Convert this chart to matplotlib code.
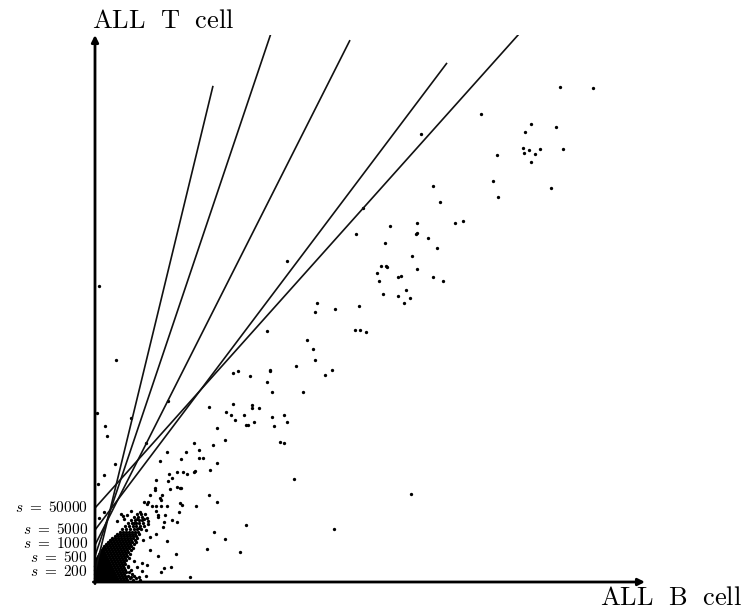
import matplotlib
matplotlib.use("Agg")
import matplotlib.pyplot as plt
import matplotlib.transforms as mtransforms

plt.rcParams['mathtext.fontset'] = 'cm'
plt.rcParams['font.family'] = ['DejaVu Serif']

# ---- data (arbitrary expression units) ----
s_labels = ["200", "500", "1000", "5000", "50000"]
line_intercepts = [10, 26, 37, 52, 74]
line_slopes = [4.12, 2.97, 1.98, 1.327, 1.118]
line_end_x = [118, 176, 255, 352, 424]

sparse_x = [465, 498, 386, 436, 430, 461, 326, 428, 434, 429, 440, 445, 468, 436, 402,
            398, 403, 456, 338, 345, 360, 368, 322, 295, 322, 321, 333, 261, 290, 342,
            317, 192, 286, 291, 292, 282, 322, 284, 303, 306, 338, 348, 288, 311, 303,
            315, 309, 222, 240, 264, 268,
            220, 172, 260, 265, 271, 212, 218, 220, 201, 237, 230, 138, 143, 155, 175,
            175, 172, 177, 208, 114, 138, 131, 136, 140, 149, 157, 157, 164, 151, 153,
            159, 177, 179, 189, 192, 122, 130, 118, 99, 91, 104, 86, 104, 108, 122, 88,
            92, 99, 100, 115, 86, 114, 185, 189, 199, 316,
            4, 21, 2, 10, 12, 36, 73, 51, 72, 65, 20,
            82, 74, 77, 73, 61, 9, 3, 122, 101, 151, 119, 130, 112, 145, 239, 81, 63, 55,
            76, 69, 66, 95, 51, 44, 36, 47, 52, 42, 47, 39, 33, 34, 61, 72, 68, 69, 77,
            82, 84, 85, 87, 75, 82, 85, 60, 60, 55, 67, 65, 66, 53, 49, 52, 57, 61, 66,
            72, 61, 63, 63, 70, 45, 36, 42, 49, 52, 53, 39, 32, 26, 28, 29, 22, 9, 4, 49,
            51, 53, 44, 48, 55]
sparse_y = [495, 494, 468, 458, 450, 455, 448, 434, 432, 429, 428, 433, 433, 420, 427,
            401, 385, 394, 396, 380, 359, 361, 359, 356, 349, 348, 344, 348, 339, 334,
            326, 321, 316, 316, 315, 309, 313, 301, 305, 306, 305, 301, 288, 292, 286,
            284, 279, 279, 273, 276, 374,
            270, 251, 252, 252, 250, 242, 233, 222, 216, 212, 207, 209, 211, 206, 212,
            211, 200, 190, 190, 175, 178, 170, 167, 162, 167, 177, 174, 174, 157, 157,
            160, 165, 156, 167, 160, 154, 142, 137, 139, 130, 132, 123, 124, 124, 119, 110,
            108, 110, 111, 112, 94, 87, 140, 139, 103, 88,
            296, 222, 169, 156, 146, 164, 181, 139, 130, 121, 118,
            110, 108, 104, 101, 102, 107, 98, 80, 76, 57, 50, 43, 33, 30, 53, 28, 26, 32,
            15, 14, 10, 5, 6, 5, 5, 11, 17, 15, 19, 21, 15, 10, 48, 41, 55, 60, 62,
            60, 70, 79, 77, 93, 95, 94, 94, 92, 87, 87, 84, 82, 80, 80, 78, 76, 76, 76,
            76, 71, 67, 65, 67, 70, 71, 63, 63, 64, 61, 59, 67, 68, 66, 63, 61, 70, 64, 56,
            52, 58, 54, 42, 45]

# dense cluster near the origin, read row by row
cluster_row_y = [2, 4, 6, 8, 10, 12, 14, 16, 18, 20, 22, 24, 26, 28, 30, 32, 34, 36,
                 38, 40, 42, 44, 46, 48, 50, 53, 56, 59, 62, 65, 68]
cluster_row_x = [
    [1, 3, 5, 7, 9, 11, 13, 15, 17, 19, 21, 23, 26, 29, 32, 38, 45],
    [0, 2, 4, 6, 8, 10, 12, 14, 16, 18, 20, 22, 25, 28, 31, 35, 41],
    [1, 3, 5, 7, 9, 11, 13, 15, 17, 19, 21, 24, 27, 30, 33, 39],
    [0, 2, 4, 6, 8, 10, 12, 14, 16, 18, 20, 23, 26, 29, 37],
    [1, 3, 5, 7, 9, 11, 13, 15, 17, 19, 22, 25, 28, 31],
    [0, 2, 4, 6, 8, 10, 12, 14, 16, 18, 21, 24, 27, 30, 36],
    [1, 3, 5, 7, 9, 11, 13, 15, 17, 20, 23, 26, 29],
    [0, 2, 4, 6, 8, 10, 12, 14, 16, 19, 22, 25, 28, 33],
    [1, 3, 5, 7, 9, 11, 13, 15, 18, 21, 24, 27, 30],
    [2, 4, 6, 8, 10, 12, 14, 17, 20, 23, 26, 29],
    [1, 3, 5, 7, 9, 11, 13, 16, 19, 22, 25, 28, 31],
    [2, 4, 6, 8, 10, 12, 15, 18, 21, 24, 27, 30, 34],
    [3, 5, 7, 9, 11, 14, 17, 20, 23, 26, 29, 32],
    [4, 6, 8, 10, 13, 16, 19, 22, 25, 28, 31, 35],
    [5, 7, 9, 12, 15, 18, 21, 24, 27, 30, 33],
    [6, 8, 11, 14, 17, 20, 23, 26, 29, 32, 36],
    [8, 10, 13, 16, 19, 22, 25, 28, 31, 34, 38],
    [9, 12, 15, 18, 21, 24, 27, 30, 33, 36],
    [11, 14, 17, 20, 23, 26, 29, 32, 35, 39],
    [13, 16, 19, 22, 25, 28, 31, 34, 37, 41],
    [15, 18, 21, 24, 27, 30, 33, 36, 40],
    [17, 20, 23, 26, 29, 32, 35, 38, 42],
    [20, 23, 26, 29, 32, 35, 38, 41],
    [22, 25, 28, 31, 34, 37, 40, 44],
    [25, 28, 31, 34, 37, 40, 43],
    [27, 31, 35, 39, 42, 46],
    [30, 34, 38, 41, 45],
    [33, 37, 41, 44, 48],
    [36, 40, 44, 47],
    [39, 43, 47],
    [42, 46, 50],
]

x_max, y_max = 550, 547

fig = plt.figure(figsize=(7.45, 6.15), dpi=100)
ax = fig.add_axes([95 / 745, 33 / 615, 550 / 745, 547 / 615])
ax.set_xlim(0, x_max)
ax.set_ylim(0, y_max)
for sp in ax.spines.values():
    sp.set_visible(False)

# points
cx, cy = [], []
for yv, xs in zip(cluster_row_y, cluster_row_x):
    for xv in xs:
        cx.append(xv)
        cy.append(yv)
ax.plot(cx, cy, 'o', color='black', ms=2.4, mew=0, clip_on=False)
ax.plot(sparse_x, sparse_y, 'o', color='black', ms=2.4, mew=0, clip_on=False)

# lines
for b, m, xe in zip(line_intercepts, line_slopes, line_end_x):
    ax.plot([0, xe], [b, b + m * xe], color='#111111', lw=1.2, solid_capstyle='butt')

# axes with arrows
arrow = dict(arrowstyle='-|>', lw=2.0, color='black', mutation_scale=10,
             shrinkA=0, shrinkB=0)
ax.annotate('', xy=(1, 0), xytext=(-0.003, 0), xycoords='axes fraction',
            arrowprops=arrow, annotation_clip=False)
ax.annotate('', xy=(0, 1), xytext=(0, -0.003), xycoords='axes fraction',
            arrowprops=arrow, annotation_clip=False)

# s-labels at the line intercepts (small nudges keep the tight pair apart)
ax.set_xticks([])
ax.set_yticks([])
nudge_pt = {"500": -1.2, "1000": 1.0}
blend = mtransforms.blended_transform_factory(ax.transAxes, ax.transData)
for s, b in zip(s_labels, line_intercepts):
    tr = blend + mtransforms.ScaledTranslation(-5 / 72, nudge_pt.get(s, 0) / 72,
                                               fig.dpi_scale_trans)
    ax.text(0, b, r'$s\ =\ %s$' % s, transform=tr, fontsize=11,
            ha='right', va='center', clip_on=False)

# axis titles
fig.text(92 / 745, 1 - 28 / 615, r'$\mathrm{ALL\ \ T\ \ cell}$', fontsize=19,
         ha='left', va='baseline')
fig.text(742 / 745, 1 - 605 / 615, r'$\mathrm{ALL\ \ B\ \ cell}$', fontsize=19,
         ha='right', va='baseline')

fig.savefig('out.png', dpi=100)
